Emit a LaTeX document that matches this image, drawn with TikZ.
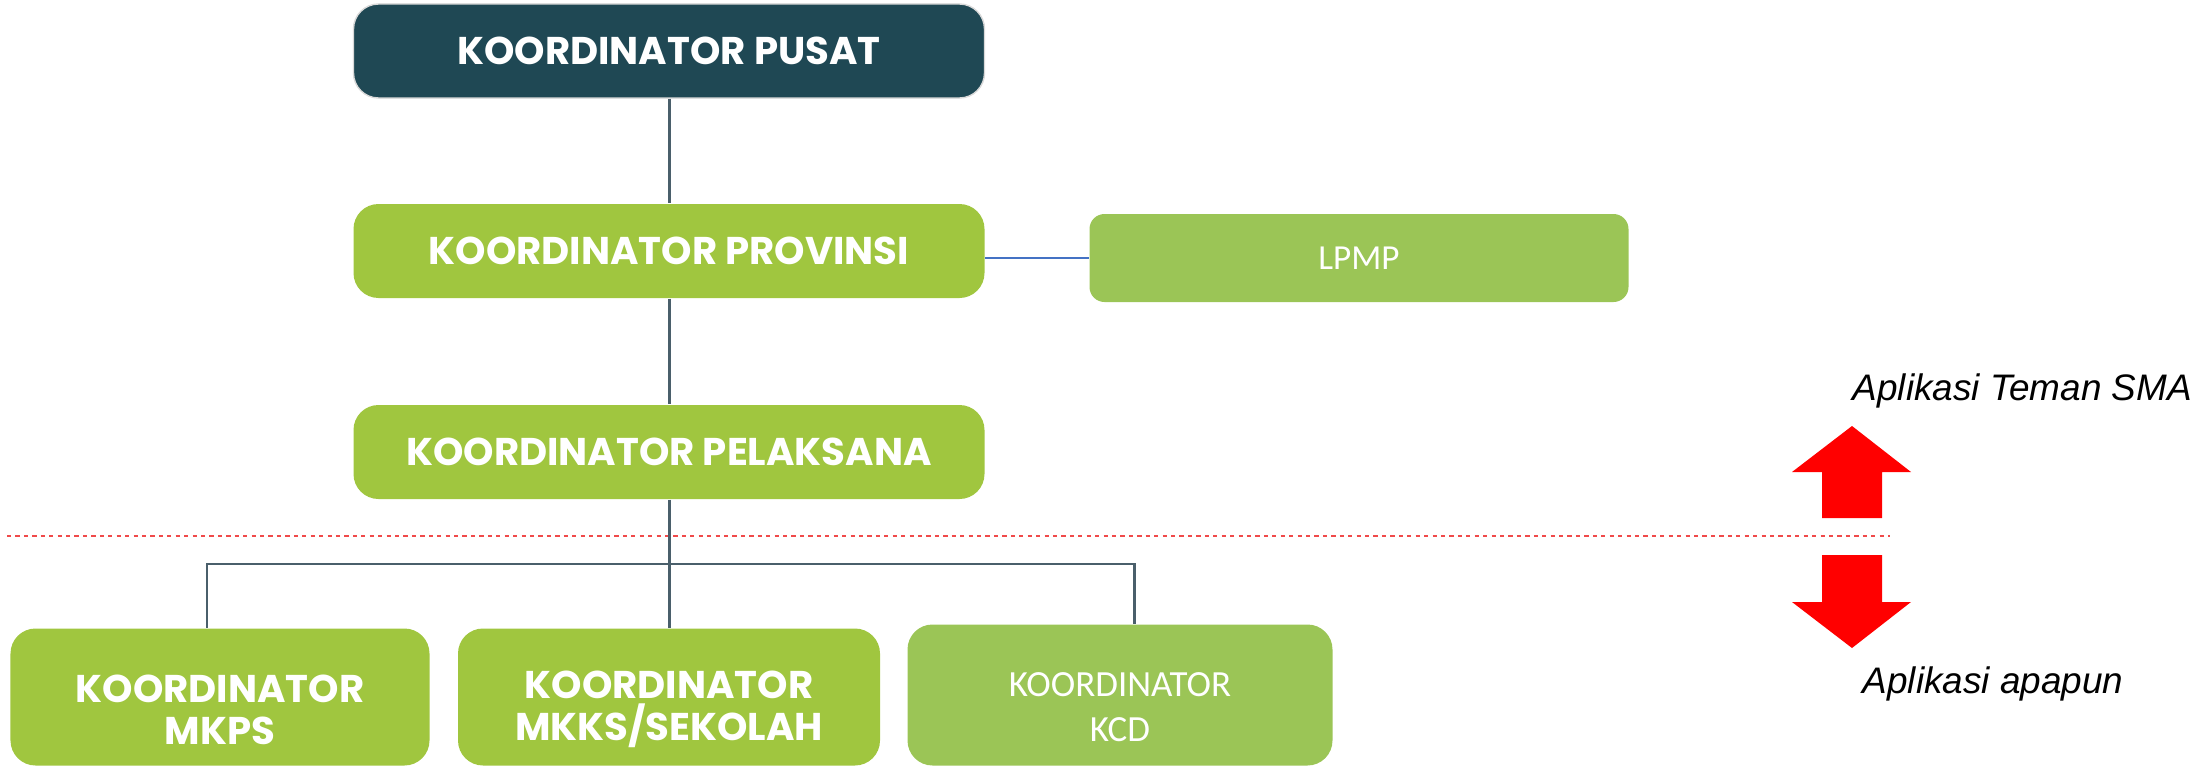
\documentclass[tikz,border=0pt]{standalone}
\usepackage{fontspec}
\setmainfont{Liberation Sans}
\newfontfamily\boxfont{Poppins}
\newfontfamily\thinfont{Carlito}
\usepackage{tikz}
\usetikzlibrary{calc,positioning,shapes}
\definecolor{pusatcol}{HTML}{1F4854}
\definecolor{koorcol}{HTML}{A0C63F}
\definecolor{lightcol}{HTML}{9BC556}
\definecolor{linkcol}{HTML}{4A5F6B}
\definecolor{bluecol}{HTML}{4472C4}
\definecolor{batascol}{HTML}{F04A4A}
\tikzset{%
	pusat/.style     = {draw=gray!30, fill=pusatcol, rounded corners=0.25cm, minimum width=6.31cm, minimum height=0.94cm, text=white, align=center, font=\boxfont\bfseries\fontsize{11}{12}\selectfont},
	koor/.style      = {fill=koorcol, rounded corners=0.25cm, minimum width=6.31cm, minimum height=0.94cm, text=white, align=center, font=\boxfont\bfseries\fontsize{11}{12}\selectfont},
	koorlight/.style = {fill=lightcol, rounded corners=0.15cm, text=white, align=center, font=\thinfont\fontsize{10.5}{12.8}\selectfont},
	link/.style      = {draw=linkcol, line width=0.85pt},
	batas/.style     = {draw=batascol, line width=0.45pt, dash pattern=on 1.2pt off 1.2pt},
	ket/.style       = {anchor=base west, inner sep=0pt, font=\itshape\fontsize{10.5}{12}\selectfont},
}
\begin{document}
\begin{tikzpicture}
	\useasboundingbox (0,0) rectangle (21.96,-7.68);
	\node[pusat] (pusat) at (6.69,-0.51) {KOORDINATOR PUSAT};
	\node[koor] (prov) at (6.69,-2.51) {KOORDINATOR PROVINSI};
	\node[koor] (pel) at (6.69,-4.52) {KOORDINATOR PELAKSANA};
	\node[koorlight, minimum width=5.39cm, minimum height=0.88cm, font=\thinfont\fontsize{10}{12}\selectfont] (lpmp) at (13.59,-2.58) {LPMP};
	\node[koor, minimum width=4.19cm, minimum height=1.37cm] (mkps) at (2.20,-6.97) {\rule{0pt}{15pt}KOORDINATOR\\MKPS};
	\node[koor, minimum width=4.22cm, minimum height=1.37cm] (mkks) at (6.69,-6.97) {\rule{0pt}{15pt}KOORDINATOR\\MKKS/SEKOLAH};
	\node[koorlight, minimum width=4.25cm, minimum height=1.41cm, rounded corners=0.25cm] (kcd) at (11.20,-6.95) {\rule{0pt}{14pt}KOORDINATOR\\KCD};
	% batas aplikasi
	\draw[batas] (0.07,-5.36) -- (18.90,-5.36);
	% garis hubung
	\draw[link] (pusat) -- (prov);
	\draw[link] (prov) -- (pel);
	\draw[link] (pel) -- (mkks);
	\draw[draw=bluecol, line width=0.4pt] (lpmp.west) -- (lpmp.west -| prov.east);
	\coordinate (kiri) at (2.07,-5.64);
	\coordinate (kanan) at (11.34,-5.64);
	\draw[link] (kiri |- mkps.north) -- (kiri) -- (kanan) -- (kanan |- kcd.north);
	% panah
	\fill[red] (18.52,-4.26) -- (19.11,-4.72) -- (18.82,-4.72) -- (18.82,-5.18) -- (18.22,-5.18) -- (18.22,-4.72) -- (17.92,-4.72) -- cycle;
	\fill[red] (18.22,-5.55) -- (18.82,-5.55) -- (18.82,-6.02) -- (19.11,-6.02) -- (18.52,-6.48) -- (17.92,-6.02) -- (18.22,-6.02) -- cycle;
	\node[ket] (atas) at (18.52,-4.00) {Aplikasi Teman SMA};
	\node[ket] (bawah) at (18.62,-6.93) {Aplikasi apapun};
\end{tikzpicture}
\end{document}
